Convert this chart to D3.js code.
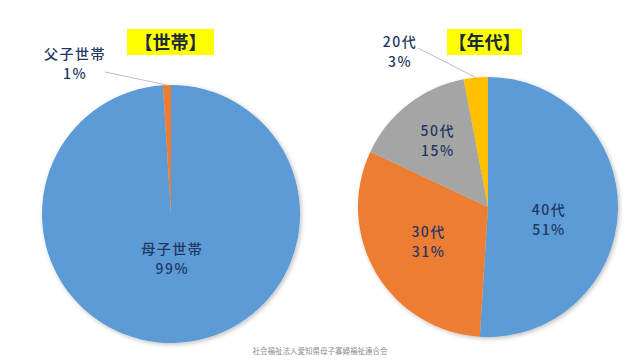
<!DOCTYPE html>
<html><head><meta charset="utf-8">
<script src="https://cdn.jsdelivr.net/npm/d3@7"></script>
<style>body{margin:0;background:#fff}svg{display:block}text{font-family:"Noto Sans CJK JP","Noto Sans",sans-serif}</style>
</head><body><svg id="c" width="640" height="360"></svg>
<script>
const householdCategories = ["母子世帯", "父子世帯"];
const householdValues = [99, 1];
const ageCategories = ["40代", "30代", "50代", "20代"];
const ageValues = [51, 31, 15, 3];
const titles = ["【世帯】", "【年代】"];
const footer = "社会福祉法人愛知県母子寡婦福祉連合会";

const svg = d3.select("#c");
const defs = svg.append("defs");
const f = defs.append("filter").attr("id","sh").attr("x","-10%").attr("y","-10%").attr("width","120%").attr("height","120%");
f.append("feDropShadow").attr("dx",1.5).attr("dy",1.5).attr("stdDeviation",2).attr("flood-color","#000").attr("flood-opacity",0.25);

const textColor = "#1f3864";

function drawPie(cfg){
  const {cx, cy, r, cats, vals, colors, labelR, labelDy, outside, title, titleBox} = cfg;
  const pie = d3.pie().sort(null).value(d=>d.v);
  const data = pie(cats.map((c,i)=>({c, v: vals[i]})));
  const g = svg.append("g").attr("transform",`translate(${cx},${cy})`);
  const arc = d3.arc().innerRadius(0).outerRadius(r);
  const color = d3.scaleOrdinal().domain(cats).range(colors);
  g.append("g").attr("filter","url(#sh)").selectAll("path").data(data).join("path")
    .attr("d",arc).attr("fill",d=>color(d.data.c));
  data.forEach((d,i)=>{
    let x,y;
    if (outside[i]) {
      const o = outside[i];
      const a = d3.arc().innerRadius(r).outerRadius(r);
      const p = a.centroid(d);
      x = o.x; y = o.y;
      g.append("line").attr("x1",o.lx).attr("y1",o.ly).attr("x2",p[0]).attr("y2",p[1])
        .attr("stroke","#bfbfbf").attr("stroke-width",1);
    } else {
      const a = d3.arc().innerRadius(labelR[i]).outerRadius(labelR[i]);
      [x,y] = a.centroid(d);
      y += labelDy[i];
    }
    const t = g.append("text").attr("text-anchor","middle").attr("fill",textColor)
      .attr("font-size",14).attr("font-weight",500).attr("letter-spacing",1.5);
    t.append("tspan").attr("x",x).attr("y",y-3).text(d.data.c);
    t.append("tspan").attr("x",x).attr("y",y+17).text(d.data.v+"%");
  });
  svg.append("rect").attr("x",titleBox[0]).attr("y",titleBox[1]).attr("width",titleBox[2]).attr("height",titleBox[3]).attr("fill","#ffff00");
  svg.append("text").attr("x",titleBox[0]+titleBox[2]/2).attr("y",titleBox[1]+titleBox[3]/2+6.5)
    .attr("text-anchor","middle").attr("font-size",18).attr("font-weight","bold").attr("fill","#1a2a3a").text(title);
}

drawPie({cx:171, cy:214, r:129, cats:householdCategories, vals:householdValues,
  colors:["#5b9bd5","#ed7d31"], labelR:[43,0], labelDy:[0,0],
  outside:[null,{x:-96,y:-152,lx:-66,ly:-142}],
  title:titles[0], titleBox:[127,29,87,26]});

drawPie({cx:488, cy:207, r:130, cats:ageCategories, vals:ageValues,
  colors:["#5b9bd5","#ed7d31","#a5a5a5","#ffc000"], labelR:[61,69,82,0], labelDy:[9,-2,-3,0],
  outside:[null,null,null,{x:-88,y:-157,lx:-70,ly:-159}],
  title:titles[1], titleBox:[447,29,75,26]});

svg.append("text").attr("x",320).attr("y",354).attr("text-anchor","middle").attr("font-size",7.5)
  .attr("fill","#8c8c8c").text(footer);
</script></body></html>
